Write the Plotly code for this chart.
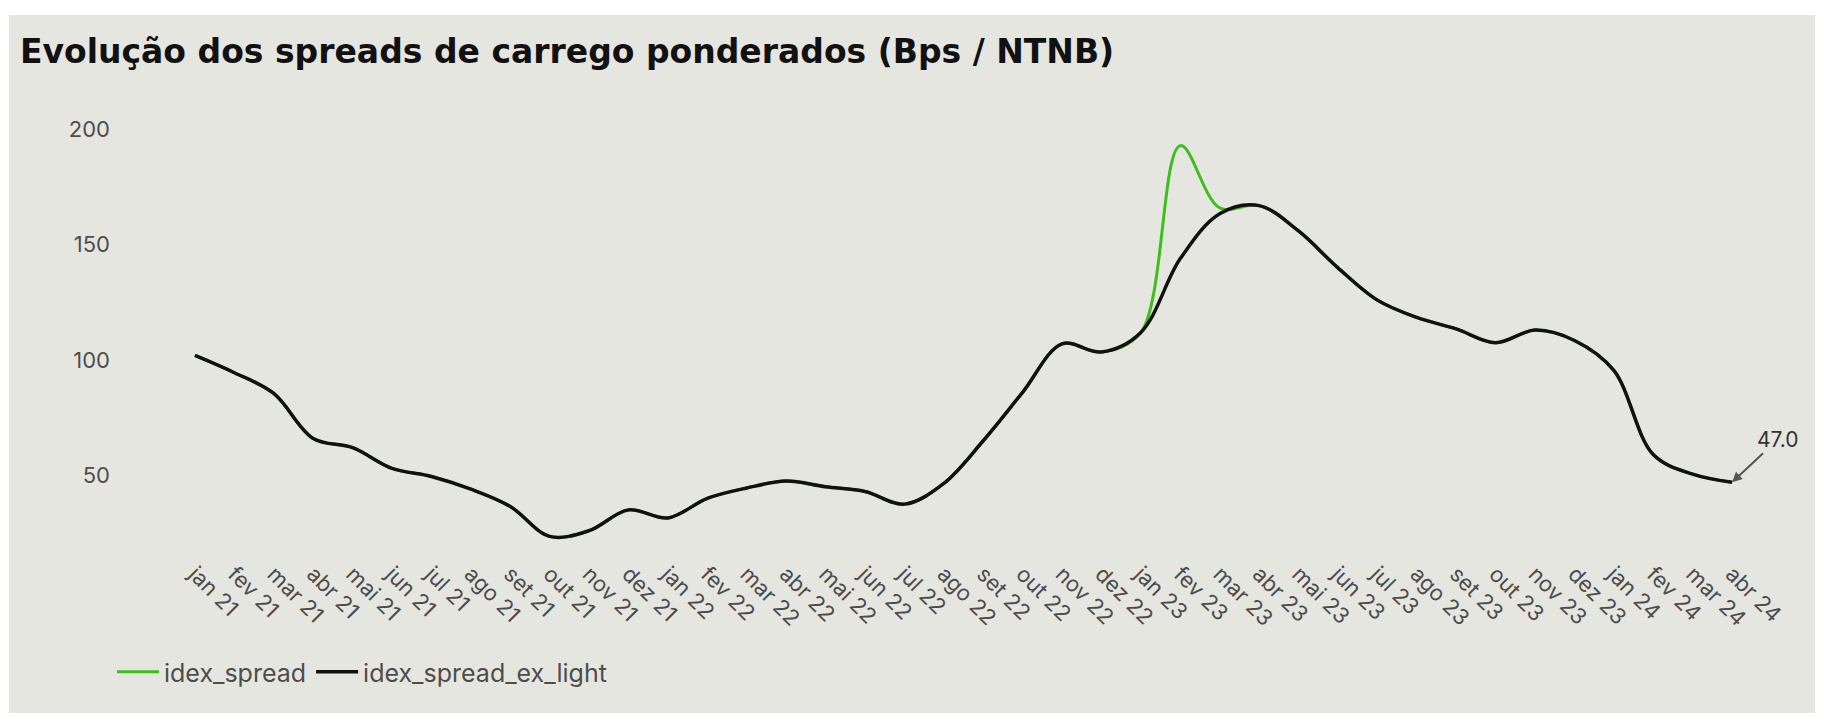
import plotly.graph_objects as go

months = ["jan", "fev", "mar", "abr", "mai", "jun", "jul", "ago", "set", "out", "nov", "dez"]
labels = [f"{m} {y}" for y in ("21", "22", "23") for m in months] + ["jan 24", "fev 24", "mar 24", "abr 24"]

spread_ex_light = [102, 94.5, 85.5, 66, 62, 53, 49.5, 44, 36.5, 23.5, 26, 35,
                   31.5, 40, 44.5, 47.5, 45, 43, 37.5, 46.5, 65, 86, 107, 103.5,
                   112, 144, 163.5, 167, 156, 140, 126, 118.5, 113.5, 107.5, 113, 108.5,
                   95.5, 59, 50.5, 47]
# idex_spread only differs from the ex-light series around fev/mar 23
spread = list(spread_ex_light)
spread[25] = 193
spread[26] = 166

# page body adds an 8px margin, so the figure is a bit smaller than the window
W, H = 1808, 710
ml, mr, mt, mb = 103, 26, 110, 162
bg = "#E6E6E1"

fig = go.Figure()
fig.add_trace(go.Scatter(x=labels, y=spread, name="idex_spread", mode="lines",
                         line=dict(color="#3DBE1C", width=3, shape="spline")))
fig.add_trace(go.Scatter(x=labels, y=spread_ex_light, name="idex_spread_ex_light", mode="lines",
                         line=dict(color="#111111", width=3.5, shape="spline")))

fig.add_annotation(x=labels[-1], y=spread_ex_light[-1], text=f"{spread_ex_light[-1]:.1f}",
                   showarrow=True, arrowhead=2, arrowsize=1, arrowwidth=2, arrowcolor="#555555",
                   ax=46, ay=-43, font=dict(size=21, color="#333333", family="Inter"))

# grey card with a thin white border around it
pw, ph = W - ml - mr, H - mt - mb
fig.add_shape(type="rect", xref="paper", yref="paper", layer="below", line_width=0,
              fillcolor=bg,
              x0=(1 - ml) / pw, x1=(1807 - ml) / pw,
              y0=(H - mb - 705) / ph, y1=(H - mb - 7) / ph)

fig.update_layout(
    width=W, height=H,
    margin=dict(l=ml, r=mr, t=mt, b=mb, autoexpand=False),
    paper_bgcolor="white", plot_bgcolor=bg,
    font=dict(family="Inter", color="#4d4d4d", size=21),
    title=dict(text="<b>Evolução dos spreads de carrego ponderados (Bps / NTNB)</b>",
               xref="container", yref="container", x=12 / W, y=1 - 43 / H,
               xanchor="left", yanchor="middle",
               font=dict(family="DejaVu Sans", size=33, color="#111111")),
    showlegend=True,
    legend=dict(orientation="h", xref="container", yref="container",
                x=104 / W, y=1 - 664 / H, xanchor="left", yanchor="middle",
                itemwidth=42,
                bgcolor="rgba(0,0,0,0)", font=dict(size=25, color="#4d4d4d")),
    xaxis=dict(type="category", range=[-2.13, 40.47], tickangle=45, showgrid=False,
               zeroline=False, showline=False, ticks="", automargin=False,
               tickfont=dict(size=22)),
    yaxis=dict(range=[15, 205], tickvals=[50, 100, 150, 200], showgrid=False,
               zeroline=False, showline=False, ticks="", automargin=False,
               tickfont=dict(size=22)),
)

fig.write_html("out.html")
